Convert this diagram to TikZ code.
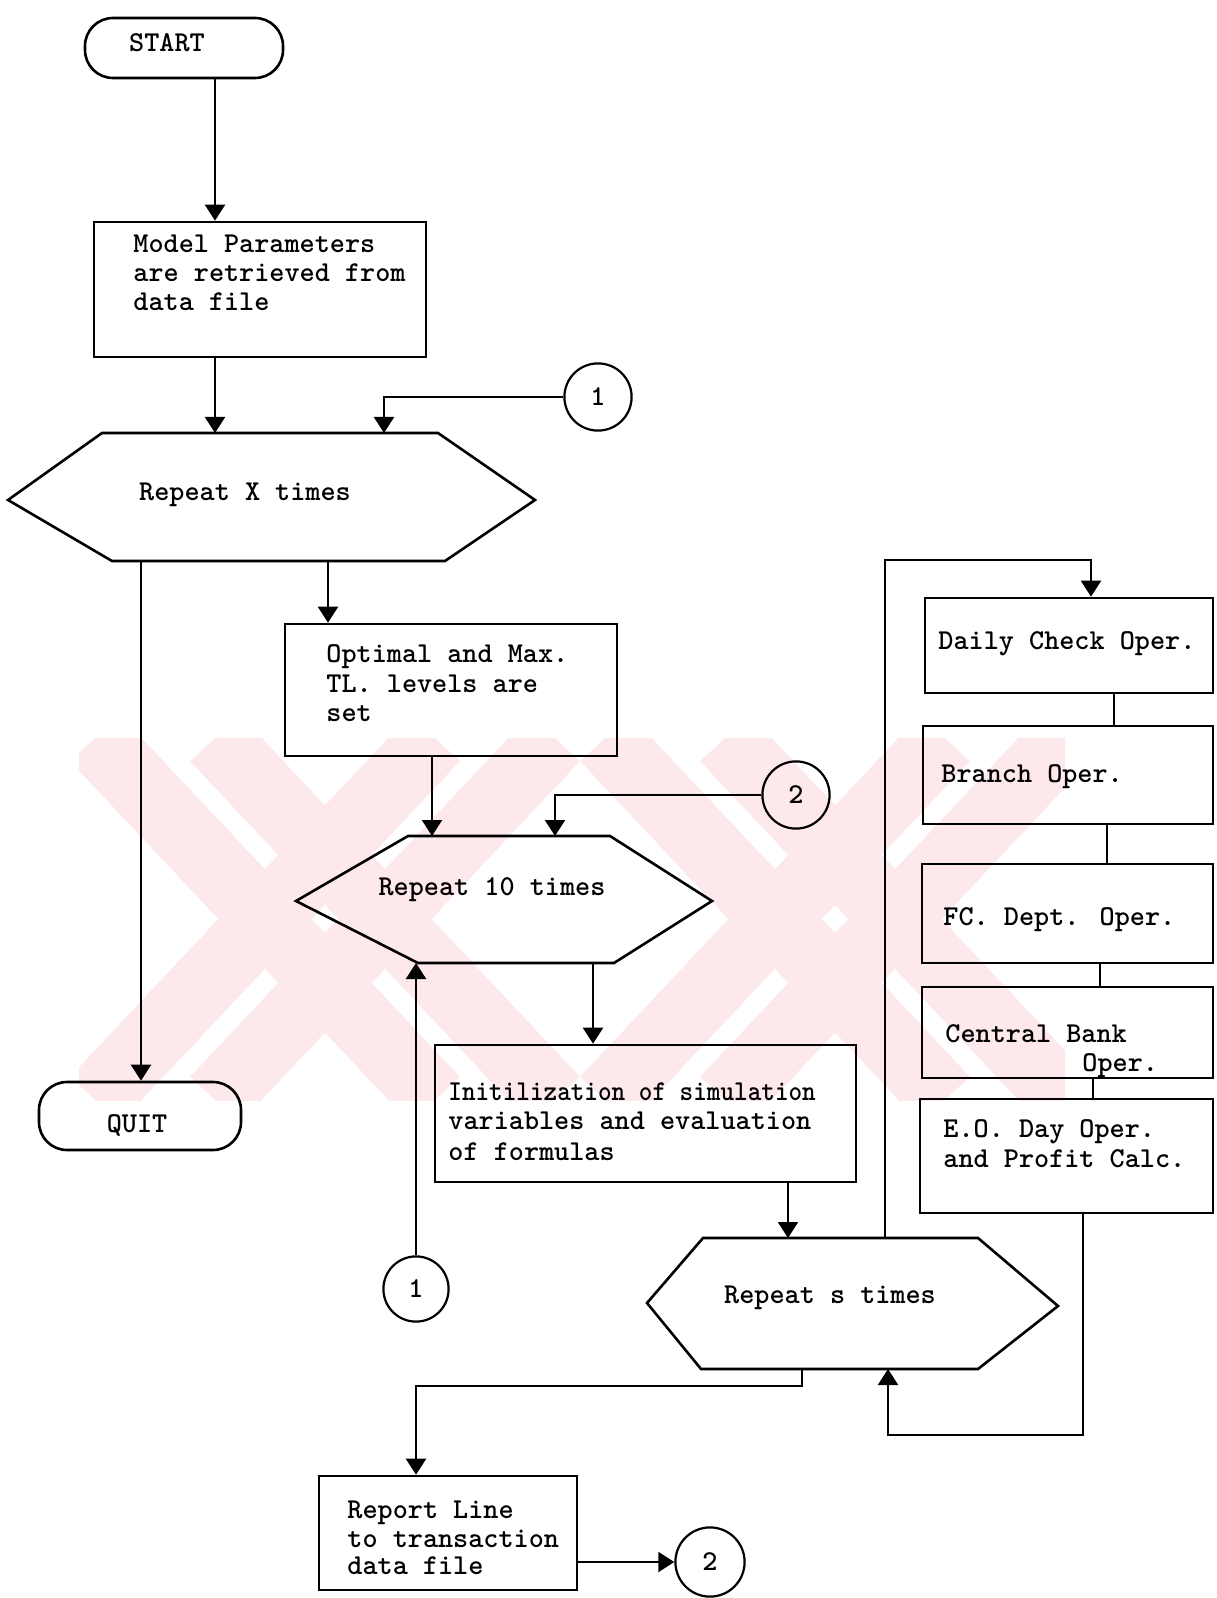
\documentclass[tikz,border=0pt]{standalone}
\usepackage{fontspec}
\usepackage{graphicx}
\usetikzlibrary{arrows.meta,fit}
\definecolor{wm}{RGB}{253,232,236}
\newcommand\fsz{\fontsize{14.4}{17}\selectfont\ttfamily\bfseries}
\begin{document}
\begin{tikzpicture}[x=0.5pt,y=-0.5pt,
  box/.style={draw, line width=1.3pt, inner sep=0pt},
  term/.style={draw, line width=1.3pt, inner sep=0pt, rounded corners=14pt},
  conn/.style={draw, circle, line width=1.1pt, inner sep=0pt, font=\fsz},
  txt/.style={inner sep=0pt, font=\fsz, text height=9pt, text depth=2pt},
  ltxt/.style={txt, anchor=west},
  link/.style={line width=1.1pt},
  arr/.style={line width=1.1pt, -{Triangle[width=10pt,length=8pt]}},
  hex/.style={draw, line width=1.3pt, line join=miter},
  wmband/.style={draw=wm, line width=34pt}]
\useasboundingbox (0,0) rectangle (1216,1598);
\fill[white] (0,0) rectangle (1216,1598);
% watermark (faint double-stroke X marks)
\begin{scope}
\clip (79,738) rectangle (1065,1100);
\draw[wmband] (95,738) -- (435,1100) (215,738) -- (555,1100);
\draw[wmband] (435,738) -- (95,1100) (555,738) -- (215,1100);
\draw[wmband] (605,738) -- (945,1100) (725,738) -- (1065,1100);
\draw[wmband] (945,738) -- (605,1100) (1065,738) -- (725,1100);
\end{scope}

% terminals and boxes
\node[term, fit={(85,18) (283,78)}] (start) {};
\node[txt] (tstart) at (167,45) {START};
\node[box, fit={(94,222) (426,357)}] (model) {};
\node[ltxt] (tm1) at (133,246) {Model Parameters};
\node[ltxt] (tm2) at (133,275) {are retrieved from};
\node[ltxt] (tm3) at (133,304) {data file};

\node[term, fit={(39,1082) (241,1150)}] (quit) {};
\node[txt] (tquit) at (137,1125) {QUIT};

\node[box, fit={(285,624) (617,756)}] (opt) {};
\node[ltxt] (to1) at (326,655) {Optimal and Max.};
\node[ltxt] (to2) at (326,685) {TL. levels are};
\node[ltxt] (to3) at (326,714) {set};

\node[box, fit={(435,1045) (856,1182)}] (init) {};
\node[ltxt] (ti1) at (448,1093) {\scalebox{0.9}[1]{Initilization of simulation}};
\node[ltxt] (ti2) at (448,1122) {variables and evaluation};
\node[ltxt] (ti3) at (448,1153) {of formulas};

\node[box, fit={(925,598) (1213,693)}] (daily) {};
\node[ltxt] (td) at (938,642) {Daily Check Oper.};
\node[box, fit={(923,726) (1213,824)}] (branch) {};
\node[ltxt] (tb) at (941,775) {Branch Oper.};
\node[box, fit={(922,864) (1213,963)}] (fc) {};
\node[ltxt] (tf) at (943,918) {FC. Dept. Oper.};
\node[box, fit={(922,987) (1213,1078)}] (cb) {};
\node[ltxt] (tc1) at (945,1035) {Central Bank};
\node[ltxt] (tc2) at (1082,1064) {Oper.};
\node[box, fit={(920,1099) (1213,1213)}] (eo) {};
\node[ltxt] (te1) at (943,1130) {E.O. Day Oper.};
\node[ltxt] (te2) at (943,1160) {and Profit Calc.};

\node[box, fit={(319,1476) (577,1590)}] (report) {};
\node[ltxt] (tr1) at (347,1511) {Report Line};
\node[ltxt] (tr2) at (347,1540) {to transaction};
\node[ltxt] (tr3) at (347,1567) {data file};

% connectors (circles)
\node[conn, minimum size=33.6pt] (c1) at (598,397) {1};
\node[conn, minimum size=33.6pt] (c2a) at (796,795) {2};
\node[conn, minimum size=32.6pt] (c1b) at (416,1289) {1};
\node[conn, minimum size=34.6pt] (c2b) at (710,1562) {2};

% hexagons
\coordinate (h1l) at (8,500);
\coordinate (h1tl) at (102,433);
\coordinate (h1tr) at (438,433);
\coordinate (h1r) at (535,500);
\coordinate (h1br) at (445,561);
\coordinate (h1bl) at (112,561);
\draw[hex] (h1l) -- (h1tl) -- (h1tr) -- (h1r) -- (h1br) -- (h1bl) -- cycle;
\node[txt] (th1) at (245,494) {Repeat X times};

\coordinate (h2l) at (296,901);
\coordinate (h2tl) at (408,836);
\coordinate (h2tr) at (610,836);
\coordinate (h2r) at (712,901);
\coordinate (h2br) at (614,963);
\coordinate (h2bl) at (418,963);
\draw[hex] (h2l) -- (h2tl) -- (h2tr) -- (h2r) -- (h2br) -- (h2bl) -- cycle;
\node[txt] (th2) at (492,888) {Repeat 10 times};

\coordinate (h3l) at (647,1303);
\coordinate (h3tl) at (703,1238);
\coordinate (h3tr) at (978,1238);
\coordinate (h3r) at (1058,1306);
\coordinate (h3br) at (978,1369);
\coordinate (h3bl) at (701,1369);
\draw[hex] (h3l) -- (h3tl) -- (h3tr) -- (h3r) -- (h3br) -- (h3bl) -- cycle;
\node[txt] (th3) at (830,1296) {Repeat s times};

% helper coordinates for connector x/y positions
\coordinate (xa) at (215,0);
\coordinate (xb) at (384,0);
\coordinate (xc) at (141,0);
\coordinate (xd) at (328,0);
\coordinate (xe) at (432,0);
\coordinate (xf) at (555,0);
\coordinate (xg) at (593,0);
\coordinate (xh) at (788,0);
\coordinate (xi) at (885,0);
\coordinate (xj) at (1091,0);
\coordinate (xk) at (1083,0);
\coordinate (xl) at (888,0);
\coordinate (xm) at (802,0);
\coordinate (ytop) at (0,560);
\coordinate (ybot) at (0,1435);
\coordinate (ymid) at (0,1386);
\coordinate (x1) at (1114,0);
\coordinate (x2) at (1107,0);
\coordinate (x3) at (1100,0);
\coordinate (x4) at (1093,0);

% connectors
\draw[arr] (start.south -| xa) -- (model.north -| xa);
\draw[arr] (model.south -| xa) -- (h1tl -| xa);
\draw[arr] (c1.west) -| (h1tl -| xb);
\draw[arr] (h1bl -| xc) -- (quit.north -| xc);
\draw[arr] (h1bl -| xd) -- (opt.north -| xd);
\draw[arr] (opt.south -| xe) -- (h2tl -| xe);
\draw[arr] (c2a.west) -| (h2tl -| xf);
\draw[arr] (h2bl -| xg) -- (init.north -| xg);
\draw[arr] (c1b.north) -- (h2bl -| c1b);
\draw[arr] (init.south -| xh) -- (h3tl -| xh);
\draw[arr] (h3tl -| xi) -- (xi |- ytop) -- (xj |- ytop) -- (daily.north -| xj);
\draw[link] (daily.south -| x1) -- (branch.north -| x1);
\draw[link] (branch.south -| x2) -- (fc.north -| x2);
\draw[link] (fc.south -| x3) -- (cb.north -| x3);
\draw[link] (cb.south -| x4) -- (eo.north -| x4);
\draw[arr] (eo.south -| xk) -- (xk |- ybot) -- (xl |- ybot) -- (h3bl -| xl);
\draw[arr] (h3bl -| xm) -- (xm |- ymid) -- (c1b |- ymid) -- (report.north -| c1b);
\draw[arr] (report.east |- c2b) -- (c2b.west);
\end{tikzpicture}
\end{document}
